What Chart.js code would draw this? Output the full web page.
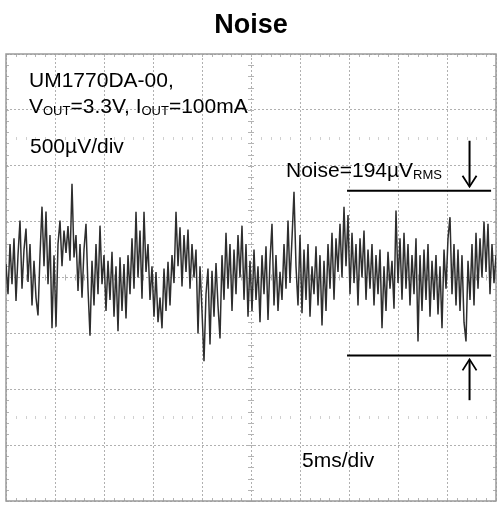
<!DOCTYPE html>
<html>
<head>
<meta charset="utf-8">
<script src="https://cdn.jsdelivr.net/npm/chart.js@4"></script>
<style>
  html, body { margin: 0; padding: 0; background: #fff; }
  #wrap { width: 497px; height: 507px; position: relative; }
</style>
</head>
<body>
<div id="wrap"><canvas id="noise-chart"></canvas></div>
<script>
// scope settings: 500 uV/div vertical, 5 ms/div horizontal
const timeRangeMs = [0, 50];
const voltRangeUv = [-2000, 2000];
const timeDivMs = 5;
const voltDivUv = 500;

const noiseUv = [
  120,-150,300,-60,350,-210,200,509,
  -100,250,438,-40,300,-250,150,-180,
  -340,200,634,100,590,-60,380,-455,
  200,-440,300,509,100,420,220,460,150,839,180,380,-120,300,-180,250,480,-100,-520,150,-250,300,-150,464,-60,200,-300,150,
  -200,230,-350,100,-480,180,-300,120,-366,200,
  -150,350,-100,589,0,420,-190,589,50,300,-200,
  100,-350,50,-400,-180,-455,80,-300,140,-250,200,
  -50,589,100,450,-80,380,50,430,-100,300,0,
  250,-500,100,-300,-750,-150,80,-600,60,-350,130,-250,-545,
  200,-200,400,-100,300,-300,250,-150,380,0,464,-200,300,-350,150,
  -300,250,-200,100,-400,200,-150,280,-380,150,480,-250,200,-300,50,
  -200,300,-100,509,-50,350,768,100,-250,380,-320,250,
  -200,300,-350,100,-150,280,-250,200,-430,150,-300,300,
  -100,400,-200,350,50,480,0,634,100,560,-150,400,-50,300,-250,350,0,420,-200,250,-100,300,
  -250,200,-150,250,-455,100,-300,230,-100,150,-280,
  600,-50,350,-200,400,-100,300,-250,200,-150,350,
  -572,200,-300,250,-200,300,-350,150,-200,200,-330,100,-455,250,-100,350,540,-150,300,-250,250,-300,200,-400,-572,150,-200,300,-250,400,-100,350,0,500,50,480,-150,300,-50,200
];

// measurement cursors (uV) and where they are drawn (ms)
const cursorTopUv = 777;
const cursorBottomUv = -697;
const cursorSpanMs = [34.8, 49.5];
const arrowMs = 47.3;
const arrowTopTailUv = 1223;
const arrowBottomTailUv = -1098;

const sampleStep = (timeRangeMs[1] - timeRangeMs[0]) / (noiseUv.length - 1);
const tracePoints = noiseUv.map((v, i) => ({ x: timeRangeMs[0] + i * sampleStep, y: v }));

const FONT = '"Liberation Sans", Arial, Helvetica, sans-serif';

function drawRuns(ctx, x, y, runs) {
  runs.forEach(r => {
    ctx.font = (r.sub ? '13px ' : '21px ') + FONT;
    ctx.fillText(r.t, x, y + (r.sub ? 2 : 0));
    x += ctx.measureText(r.t).width;
  });
}

const scopeDecor = {
  id: 'scopeDecor',
  beforeDatasetsDraw(chart) {
    const { ctx, chartArea: a, scales: { x, y } } = chart;
    ctx.save();
    ctx.strokeStyle = '#b4b4b4';
    ctx.lineWidth = 1;
    // minor ticks on the centre cross and frame
    const cx = x.getPixelForValue((timeRangeMs[0] + timeRangeMs[1]) / 2);
    const cy = y.getPixelForValue(0);
    ctx.beginPath();
    for (let v = voltRangeUv[0]; v <= voltRangeUv[1]; v += voltDivUv / 5) {
      const py = Math.round(y.getPixelForValue(v)) + 0.5;
      ctx.moveTo(cx - 3, py); ctx.lineTo(cx + 3, py);
      ctx.moveTo(a.left, py); ctx.lineTo(a.left + 3, py);
      ctx.moveTo(a.right, py); ctx.lineTo(a.right - 3, py);
    }
    for (let t = timeRangeMs[0]; t <= timeRangeMs[1]; t += timeDivMs / 5) {
      const px = Math.round(x.getPixelForValue(t)) + 0.5;
      ctx.moveTo(px, cy - 3); ctx.lineTo(px, cy + 3);
      ctx.moveTo(px, a.top); ctx.lineTo(px, a.top + 3);
      ctx.moveTo(px, a.bottom); ctx.lineTo(px, a.bottom - 3);
    }
    ctx.stroke();
    // dotted reference rows at +/- 2.5 div
    ctx.strokeStyle = '#d0d0d0';
    ctx.beginPath();
    [2.5 * voltDivUv, -2.5 * voltDivUv].forEach(v => {
      const py = Math.round(y.getPixelForValue(v));
      for (let t = timeRangeMs[0]; t < timeRangeMs[1]; t += timeDivMs / 5) {
        if (Math.abs(t % timeDivMs) < 1e-6) continue;
        const px = Math.round(x.getPixelForValue(t)) + 0.5;
        ctx.moveTo(px, py - 1); ctx.lineTo(px, py + 2);
      }
    });
    ctx.stroke();
    // frame
    ctx.strokeStyle = '#9a9a9a';
    ctx.lineWidth = 1.5;
    ctx.strokeRect(a.left, a.top, a.right - a.left, a.bottom - a.top);
    ctx.restore();
  },
  afterDatasetsDraw(chart) {
    const { ctx, scales: { x, y } } = chart;
    ctx.save();
    // arrow heads
    ctx.strokeStyle = '#000';
    ctx.lineWidth = 1.8;
    const ax = x.getPixelForValue(arrowMs);
    const tipTop = y.getPixelForValue(cursorTopUv) - 4;
    const tipBot = y.getPixelForValue(cursorBottomUv) + 4;
    ctx.beginPath();
    ctx.moveTo(ax - 7, tipTop - 11); ctx.lineTo(ax, tipTop); ctx.lineTo(ax + 7, tipTop - 11);
    ctx.moveTo(ax - 7, tipBot + 11); ctx.lineTo(ax, tipBot); ctx.lineTo(ax + 7, tipBot + 11);
    ctx.stroke();
    // labels
    ctx.fillStyle = '#000';
    ctx.textBaseline = 'alphabetic';
    ctx.textAlign = 'left';
    drawRuns(ctx, 29, 87, [{ t: 'UM1770DA-00,' }]);
    drawRuns(ctx, 29, 113, [{ t: 'V' }, { t: 'OUT', sub: true }, { t: '=3.3V, I' }, { t: 'OUT', sub: true }, { t: '=100mA' }]);
    drawRuns(ctx, 30, 153, [{ t: '500µV/div' }]);
    drawRuns(ctx, 286, 177, [{ t: 'Noise=194µV' }, { t: 'RMS', sub: true }]);
    drawRuns(ctx, 302, 467, [{ t: '5ms/div' }]);
    ctx.font = 'bold 27px ' + FONT;
    ctx.textAlign = 'center';
    ctx.fillText('Noise', 251, 33);
    ctx.restore();
  }
};

const blackLine = { borderColor: '#000', borderWidth: 2, pointRadius: 0, fill: false };

new Chart(document.getElementById('noise-chart'), {
  type: 'line',
  data: {
    datasets: [
      { data: tracePoints, borderColor: '#2e2e2e', borderWidth: 1.5, pointRadius: 0, fill: false, tension: 0 },
      Object.assign({ data: [{ x: cursorSpanMs[0], y: cursorTopUv }, { x: cursorSpanMs[1], y: cursorTopUv }] }, blackLine),
      Object.assign({ data: [{ x: cursorSpanMs[0], y: cursorBottomUv }, { x: cursorSpanMs[1], y: cursorBottomUv }] }, blackLine),
      Object.assign({ data: [{ x: arrowMs, y: arrowTopTailUv }, { x: arrowMs, y: cursorTopUv + 40 }] }, blackLine),
      Object.assign({ data: [{ x: arrowMs, y: arrowBottomTailUv }, { x: arrowMs, y: cursorBottomUv - 40 }] }, blackLine)
    ]
  },
  options: {
    responsive: true,
    maintainAspectRatio: false,
    animation: false,
    parsing: false,
    layout: { padding: { left: 6, right: 1, top: 54, bottom: 6 } },
    plugins: { legend: { display: false }, tooltip: { enabled: false }, title: { display: false } },
    scales: {
      x: {
        type: 'linear', min: timeRangeMs[0], max: timeRangeMs[1],
        ticks: { display: false, stepSize: timeDivMs },
        grid: { color: '#b0b0b0', lineWidth: 1, drawTicks: false },
        border: { display: false, dash: [2, 2] }
      },
      y: {
        type: 'linear', min: voltRangeUv[0], max: voltRangeUv[1],
        ticks: { display: false, stepSize: voltDivUv },
        grid: { color: '#b0b0b0', lineWidth: 1, drawTicks: false },
        border: { display: false, dash: [2, 2] }
      }
    }
  },
  plugins: [scopeDecor]
});
</script>
</body>
</html>
